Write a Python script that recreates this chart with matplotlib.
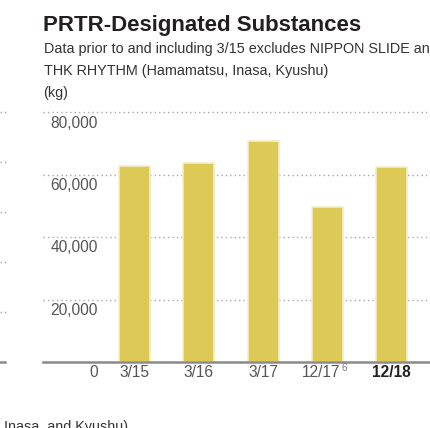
import matplotlib
matplotlib.use("Agg")
import matplotlib.pyplot as plt
from matplotlib.lines import Line2D

plt.rcParams['font.family'] = ['Liberation Sans', 'DejaVu Sans']
plt.rcParams['mathtext.default'] = 'regular'

categories = ["3/15", "3/16", "3/17", "12/17", "12/18"]
values = [62800, 63600, 70900, 49700, 62500]
yticks = [0, 20000, 40000, 60000, 80000]
ytick_labels = ["0", "20,000", "40,000", "60,000", "80,000"]

W, H = 430, 428
fig = plt.figure(figsize=(W/100, H/100), dpi=100)
fig.patch.set_facecolor('white')

def fx(px): return px / W
def fy(py): return 1 - py / H

ax = fig.add_axes([fx(43), fy(362), fx(430) - fx(43), fy(112.3) - fy(362)])
ax.set_xlim(-1.424, 4.599)
ax.set_ylim(0, 80000)
for s in ax.spines.values():
    s.set_visible(False)
ax.set_xticks([]); ax.set_yticks([])
ax.patch.set_alpha(0)

# gridlines
for v in yticks[1:]:
    ax.axhline(v, color='#a8a8a8', lw=1.0, ls=(0, (1, 2.2)), zorder=1, clip_on=False)
ax.axhline(0, color='#8a8a8a', lw=1.8, zorder=3, clip_on=False)

x = list(range(len(categories)))
ax.bar(x, values, width=0.4825, color='#DCC956', edgecolor='#F3EDC8', linewidth=1.2, zorder=2)

# y tick labels
for v, lab in zip(yticks, ytick_labels):
    ax.text((98 - 43) / 387, v - 3450, lab, transform=ax.get_yaxis_transform(),
            ha='right', va='center', fontsize=11.2, color='#555555')

# x tick labels
for i, c in enumerate(categories):
    if i == len(categories) - 1:
        ax.text(i, -3300, c, ha='center', va='center', fontsize=11.2, color='#222222', fontweight='bold')
    elif c == "12/17":
        ax.text(i + 0.195, -3300, c, ha='right', va='center', fontsize=11.2, color='#555555')
        ax.text(i + 0.215, -1950, "6", ha='left', va='center', fontsize=7, color='#777777')
    else:
        ax.text(i, -3300, c, ha='center', va='center', fontsize=11.2, color='#555555')

# titles
fig.text(fx(43), fy(31), "PRTR-Designated Substances", fontsize=16.05, fontweight='bold',
         color='#231f20', ha='left', va='baseline')
fig.text(fx(43.5), fy(52.5), "Data prior to and including 3/15 excludes NIPPON SLIDE and",
         fontsize=10.35, color='#333333', ha='left', va='baseline')
fig.text(fx(43.5), fy(75.5), "THK RHYTHM (Hamamatsu, Inasa, Kyushu)",
         fontsize=10.35, color='#333333', ha='left', va='baseline')
fig.text(fx(43.5), fy(97.5), "(kg)", fontsize=10.35, color='#333333', ha='left', va='baseline')

# fragment of neighbouring content
fig.text(fx(4), fy(430.5), "Inasa, and Kyushu)", fontsize=10.35, color='#333333', ha='left', va='baseline')
for py in [112, 162, 212, 262, 312]:
    fig.add_artist(Line2D([0, fx(7)], [fy(py), fy(py)], color='#a8a8a8', lw=1.0, ls=(0, (1, 2.2))))
fig.add_artist(Line2D([0, fx(5)], [fy(362), fy(362)], color='#8a8a8a', lw=1.8))

fig.savefig("out.png", dpi=100, facecolor='white')
